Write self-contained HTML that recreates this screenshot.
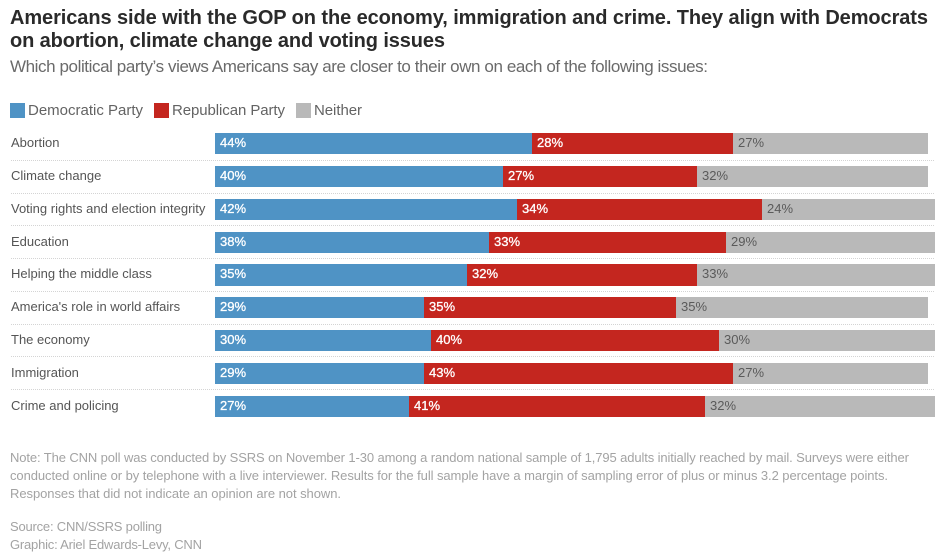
<!DOCTYPE html>
<html lang="en">
<head>
<meta charset="utf-8">
<title>Americans side with the GOP on the economy, immigration and crime</title>
<style>
html,body{margin:0;padding:0;background:#fff;width:943px;height:559px;overflow:hidden}
svg{display:block;font-family:"Liberation Sans",sans-serif}
.note{font-size:13px;fill:#a3a3a3}
.legend{font-size:15px;fill:#636363}
</style>
</head>
<body>
<svg id="chart" width="943" height="559" viewBox="0 0 943 559" xmlns="http://www.w3.org/2000/svg">
<text x="10" y="24" font-size="20" font-weight="700" fill="#2a2a2a" textLength="918" lengthAdjust="spacing">Americans side with the GOP on the economy, immigration and crime. They align with Democrats</text>
<text x="10" y="47" font-size="20" font-weight="700" fill="#2a2a2a" textLength="435" lengthAdjust="spacing">on abortion, climate change and voting issues</text>
<text x="10" y="72" font-size="17" fill="#6a6a6a" textLength="698" lengthAdjust="spacing">Which political party’s views Americans say are closer to their own on each of the following issues:</text>

<rect x="10" y="103" width="15" height="15" fill="#4f93c5"/>
<text class="legend" x="28" y="115" textLength="115" lengthAdjust="spacing">Democratic Party</text>
<rect x="154" y="103" width="15" height="15" fill="#c4261f"/>
<text class="legend" x="172" y="115" textLength="113" lengthAdjust="spacing">Republican Party</text>
<rect x="296" y="103" width="15" height="15" fill="#b9b9b9"/>
<text class="legend" x="314" y="115" textLength="48" lengthAdjust="spacing">Neither</text>

<g id="rows"></g>

<text class="note" x="10" y="462" textLength="899" lengthAdjust="spacing">Note: The CNN poll was conducted by SSRS on November 1-30 among a random national sample of 1,795 adults initially reached by mail. Surveys were either</text>
<text class="note" x="10" y="480" textLength="878" lengthAdjust="spacing">conducted online or by telephone with a live interviewer. Results for the full sample have a margin of sampling error of plus or minus 3.2 percentage points.</text>
<text class="note" x="10" y="498" textLength="331" lengthAdjust="spacing">Responses that did not indicate an opinion are not shown.</text>
<text class="note" x="10" y="531" textLength="152" lengthAdjust="spacing">Source: CNN/SSRS polling</text>
<text class="note" x="10" y="549" textLength="192" lengthAdjust="spacing">Graphic: Ariel Edwards-Levy, CNN</text>
</svg>
<script>
const categories = ["Abortion", "Climate change", "Voting rights and election integrity", "Education", "Helping the middle class", "America's role in world affairs", "The economy", "Immigration", "Crime and policing"];
const democratic = [44, 40, 42, 38, 35, 29, 30, 29, 27];
const republican = [28, 27, 34, 33, 32, 35, 40, 43, 41];
const neither = [27, 32, 24, 29, 33, 35, 30, 27, 32];

const NS = 'http://www.w3.org/2000/svg';
const rowsGroup = document.getElementById('rows');
const xScale = function (v) { return Math.round(215 + v * 7.2); };
const yRaw = function (i) { return 132.9 + i * 32.875; };
const yTop = function (i) { return Math.round(yRaw(i)); };
const yBottom = function (i) { return Math.round(yRaw(i) + 21.1); };
const sepY = function (i) { return Math.floor(160.5 + i * 32.7) + 0.5; };

function svgEl(tag, attrs) {
  const el = document.createElementNS(NS, tag);
  Object.keys(attrs).forEach(function (k) { el.setAttribute(k, attrs[k]); });
  rowsGroup.appendChild(el);
  return el;
}

categories.forEach(function (name, i) {
  const y = yTop(i);
  const h = yBottom(i) - y;
  const label = svgEl('text', { x: 11, y: y + 14, 'font-size': 13, fill: '#555' });
  label.textContent = name;
  
  

  const d = democratic[i], r = republican[i], n = neither[i];

  const barD = svgEl('rect', { x: xScale(0), y: y, width: xScale(d) - xScale(0), height: h, fill: '#4f93c5' });
  
  

  const barR = svgEl('rect', { x: xScale(d), y: y, width: xScale(d + r) - xScale(d), height: h, fill: '#c4261f' });
  
  

  const barN = svgEl('rect', { x: xScale(d + r), y: y, width: xScale(d + r + n) - xScale(d + r), height: h, fill: '#b9b9b9' });
  
  

  const valD = svgEl('text', { x: xScale(0) + 5, y: y + 14, 'font-size': 13, fill: '#fff', stroke: '#fff', 'stroke-width': 0.3 });
  valD.textContent = d + '%';
  
  

  const valR = svgEl('text', { x: xScale(d) + 5, y: y + 14, 'font-size': 13, fill: '#fff', stroke: '#fff', 'stroke-width': 0.3 });
  valR.textContent = r + '%';
  
  

  const valN = svgEl('text', { x: xScale(d + r) + 5, y: y + 14, 'font-size': 13, fill: '#5a5a5a' });
  valN.textContent = n + '%';
  
  

  if (i < categories.length - 1) {
    const sep = svgEl('line', { x1: 11, x2: 935, y1: sepY(i), y2: sepY(i), stroke: '#d4d4d4', 'stroke-width': 1, 'stroke-dasharray': '1 1' });
    
    
  }
});
</script>
</body>
</html>
